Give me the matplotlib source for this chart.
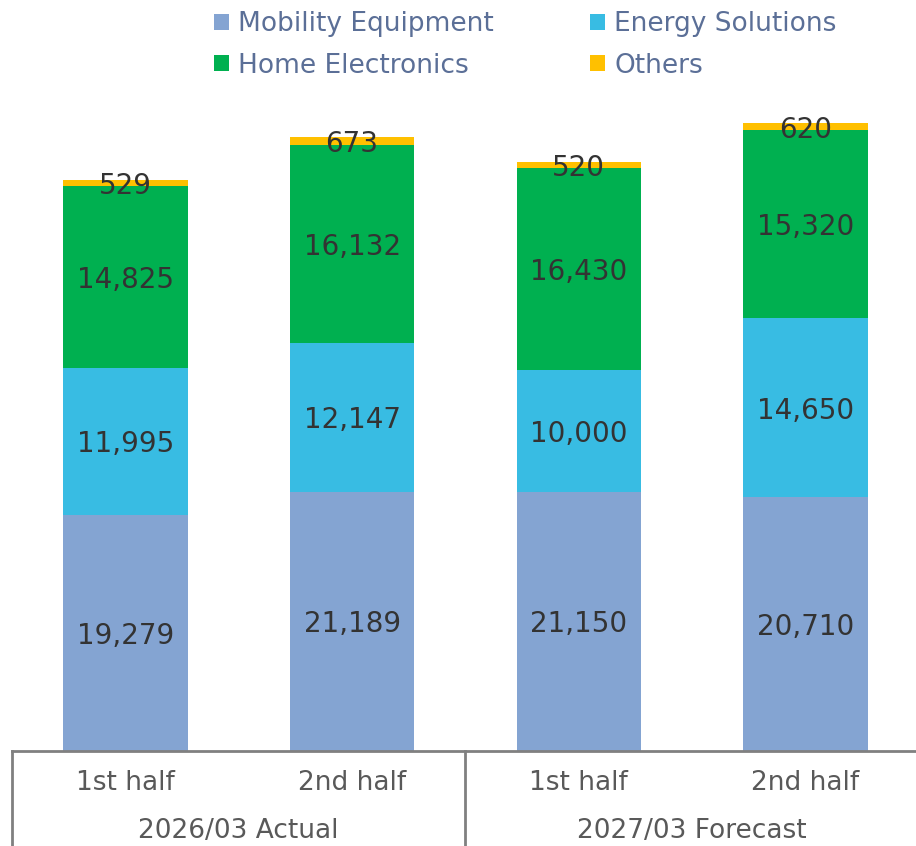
import numpy as np
import matplotlib.pyplot as plt
import matplotlib.transforms as mtransforms
from matplotlib.patches import Patch

# ======================================
# DATA
# ======================================

periods = ["1st half", "2nd half", "1st half", "2nd half"]
groups = ["2026/03 Actual", "2027/03 Forecast"]

segments = ["Mobility Equipment", "Energy Solutions", "Home Electronics", "Others"]
mobility = [19279, 21189, 21150, 20710]
energy = [11995, 12147, 10000, 14650]
home = [14825, 16132, 16430, 15320]
others = [529, 673, 520, 620]

colors = ["#84A4D2", "#38BCE3", "#00B050", "#FFC000"]

# ======================================
# PLOT
# ======================================

W, H = 916, 846
fig = plt.figure(figsize=(W / 100, H / 100), dpi=100)
ax = fig.add_axes([12 / W, (H - 751) / H, 907 / W, 751 / H])

x = np.arange(len(periods))
bottom = np.zeros(len(periods))
for name, vals, col in zip(segments, [mobility, energy, home, others], colors):
    vals = np.array(vals, dtype=float)
    ax.bar(x, vals, width=0.55, bottom=bottom, color=col, label=name)
    for xi, b, v in zip(x, bottom, vals):
        ax.text(xi, b + v / 2, f"{int(v):,}", ha="center", va="center_baseline",
                fontsize=20, color="#333333")
    bottom += vals

ax.set_xlim(-0.5, 3.5)
ax.set_ylim(0, 61325)

for s in ["top", "left", "right"]:
    ax.spines[s].set_visible(False)
ax.spines["bottom"].set_color("#808080")
ax.spines["bottom"].set_linewidth(2)
ax.set_xticks([])
ax.set_yticks([])

# category axis (two levels)
trans = mtransforms.blended_transform_factory(ax.transData, ax.transAxes)
for xi, p in zip(x, periods):
    ax.text(xi, -0.043, p, transform=trans, ha="center", va="center",
            fontsize=19, color="#595959")
for gi, g in enumerate(groups):
    ax.text(gi * 2 + 0.5, -0.106, g, transform=trans, ha="center", va="center",
            fontsize=19, color="#595959")
for xv in [-0.5, 1.5, 3.5]:
    ax.plot([xv, xv], [0, -0.2], transform=trans, color="#808080",
            linewidth=2, clip_on=False)

# legend
handles = [Patch(facecolor=c, edgecolor="none") for c in colors]
order = [0, 2, 1, 3]
leg = fig.legend([handles[i] for i in order], [segments[i] for i in order],
                 ncol=2, loc="upper left", bbox_to_anchor=(196 / W, 1.0 + 7 / H),
                 frameon=False, fontsize=19, handlelength=0.55, handleheight=0.55,
                 handletextpad=0.35, columnspacing=3.65, labelspacing=0.58,
                 borderpad=0.2)
for t in leg.get_texts():
    t.set_color("#5B6F97")

fig.savefig("out.png", dpi=100)
